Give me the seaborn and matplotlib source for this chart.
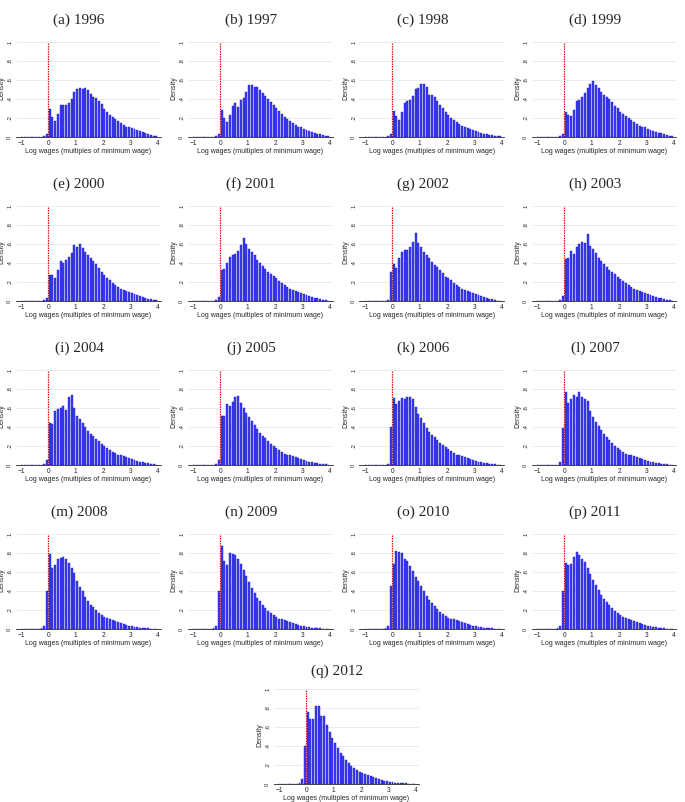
import numpy as np
import pandas as pd
import matplotlib
matplotlib.use("Agg")
import matplotlib.pyplot as plt
import seaborn as sns

# Densities per 0.1-wide bin of log wage (multiples of minimum wage).
# Bins start at -1.0; LEFT_TAIL covers -1.0 .. -0.4, each year list covers -0.3 .. 3.9
LEFT_TAIL = [0.002, 0.002, 0.002, 0.003, 0.003, 0.004, 0.005]

d1996 = [.005, .01, .03,
         .29, .21, .17, .24, .34, .34, .34, .36, .40, .47,
         .51, .52, .51, .52, .49, .45, .42, .41, .38, .35,
         .29, .26, .23, .21, .19, .17, .15, .13, .11, .10,
         .09, .08, .07, .06, .05, .04, .03, .02, .015, .01]
d1997 = [.005, .01, .03,
         .28, .20, .16, .23, .33, .36, .32, .39, .41, .47,
         .55, .55, .53, .53, .49, .46, .43, .40, .37, .34,
         .30, .27, .24, .21, .19, .17, .15, .13, .11, .10,
         .08, .07, .06, .05, .04, .035, .03, .02, .015, .01]
d1998 = [.005, .01, .03,
         .27, .22, .18, .26, .36, .38, .39, .43, .50, .52,
         .56, .555, .53, .44, .44, .42, .38, .34, .30, .26,
         .23, .20, .18, .16, .14, .12, .10, .09, .08, .07,
         .06, .05, .04, .035, .03, .025, .02, .015, .01, .007]
d1999 = [.005, .01, .03,
         .26, .23, .22, .28, .38, .39, .42, .46, .52, .56,
         .585, .55, .52, .47, .44, .42, .40, .37, .33, .30,
         .26, .24, .22, .20, .18, .16, .14, .12, .11, .10,
         .08, .07, .06, .05, .045, .04, .03, .02, .015, .01]
d2000 = [.005, .01, .03,
         .27, .27, .24, .33, .42, .40, .43, .46, .50, .59,
         .57, .60, .56, .52, .48, .45, .42, .39, .35, .31,
         .27, .24, .22, .19, .17, .15, .13, .12, .10, .09,
         .08, .07, .06, .05, .04, .03, .025, .02, .015, .01]
d2001 = [.005, .01, .04,
         .33, .34, .40, .46, .48, .49, .53, .59, .66, .60,
         .55, .52, .48, .43, .40, .37, .34, .31, .28, .26,
         .24, .21, .19, .17, .15, .13, .12, .10, .09, .08,
         .07, .06, .05, .04, .035, .03, .02, .015, .01, .005]
d2002 = [.005, .01, .31,
         .385, .35, .45, .52, .535, .535, .57, .62, .72, .615,
         .57, .52, .48, .45, .41, .38, .36, .325, .29, .255,
         .245, .22, .19, .17, .15, .13, .12, .10, .09, .08,
         .07, .06, .05, .04, .03, .025, .02, .01, .005, .003]
d2003 = [.005, .01, .05,
         .44, .45, .53, .49, .57, .60, .62, .61, .70, .58,
         .55, .50, .45, .42, .39, .36, .33, .30, .28, .25,
         .23, .21, .19, .17, .15, .13, .12, .10, .09, .08,
         .07, .06, .05, .04, .035, .03, .02, .015, .01, .005]
d2004 = [.005, .01, .05,
         .44, .43, .57, .59, .60, .62, .58, .72, .74, .60,
         .52, .48, .44, .40, .36, .33, .30, .27, .25, .22,
         .20, .18, .16, .14, .13, .11, .10, .09, .08, .07,
         .06, .05, .04, .035, .03, .025, .02, .015, .01, .005]
d2005 = [.005, .01, .05,
         .52, .52, .64, .62, .66, .72, .73, .65, .60, .55,
         .50, .46, .42, .38, .34, .31, .28, .25, .22, .20,
         .18, .16, .14, .12, .11, .10, .09, .08, .07, .06,
         .05, .04, .035, .03, .025, .02, .015, .01, .007, .005]
d2006 = [.005, .015, .40,
         .70, .64, .67, .70, .69, .715, .72, .69, .61, .54,
         .49, .44, .39, .35, .32, .29, .26, .23, .21, .19,
         .17, .15, .13, .11, .10, .09, .08, .07, .06, .05,
         .04, .035, .03, .025, .02, .015, .01, .008, .005, .003]
d2007 = [.005, .03, .39,
         .77, .65, .69, .74, .71, .77, .72, .69, .67, .57,
         .50, .455, .41, .37, .33, .29, .26, .23, .20, .18,
         .16, .14, .12, .11, .10, .09, .08, .07, .06, .05,
         .04, .035, .03, .025, .02, .015, .01, .008, .005, .003]
d2008 = [.01, .03, .40,
         .79, .64, .675, .74, .75, .76, .735, .69, .64, .59,
         .51, .44, .395, .34, .29, .255, .23, .20, .17, .15,
         .13, .115, .10, .09, .08, .07, .06, .05, .04, .035,
         .03, .025, .02, .015, .012, .01, .008, .005, .003, .002]
d2009 = [.01, .03, .40,
         .87, .72, .67, .80, .79, .78, .74, .68, .62, .56,
         .49, .43, .38, .33, .29, .25, .22, .19, .17, .15,
         .13, .11, .10, .09, .08, .07, .06, .05, .04, .035,
         .03, .025, .02, .015, .012, .01, .008, .005, .003, .002]
d2010 = [.01, .03, .45,
         .68, .82, .81, .80, .74, .72, .66, .61, .55, .50,
         .45, .40, .35, .31, .27, .24, .21, .18, .16, .14,
         .12, .11, .10, .09, .08, .07, .06, .05, .04, .035,
         .03, .025, .02, .015, .012, .01, .008, .005, .003, .002]
d2011 = [.01, .03, .40,
         .69, .67, .68, .76, .81, .78, .74, .70, .64, .58,
         .52, .46, .41, .36, .32, .28, .25, .22, .19, .17,
         .15, .13, .115, .10, .09, .08, .07, .06, .05, .04,
         .035, .03, .025, .02, .015, .01, .008, .005, .003, .002]
d2012 = [.01, .05, .40,
         .76, .68, .68, .82, .82, .72, .72, .62, .55, .48,
         .43, .375, .33, .29, .25, .22, .19, .17, .15, .13,
         .12, .10, .09, .08, .07, .06, .05, .04, .035, .03,
         .025, .02, .015, .012, .01, .008, .006, .004, .003, .002]

YEARS = [1996, 1997, 1998, 1999, 2000, 2001, 2002, 2003, 2004,
         2005, 2006, 2007, 2008, 2009, 2010, 2011, 2012]
LETTERS = list("abcdefghijklmnopq")
SERIES = [d1996, d1997, d1998, d1999, d2000, d2001, d2002, d2003, d2004,
          d2005, d2006, d2007, d2008, d2009, d2010, d2011, d2012]

XTICKS = [-1, 0, 1, 2, 3, 4]
XTICKLABELS = ["\u22121", "0", "1", "2", "3", "4"]
YTICKS = [0, .2, .4, .6, .8, 1]
YTICKLABELS = ["0", ".2", ".4", ".6", ".8", "1"]

sns.set_style("white")
plt.rcParams["font.family"] = ["Liberation Sans", "DejaVu Sans"]

# bin centres: 50 bins of width 0.1 from -1.0 to 4.0
centers = np.round(np.arange(50) * 0.1 - 0.95, 3)

W, H = 685, 802
fig = plt.figure(figsize=(W / 100, H / 100), dpi=100)

AX_W, AX_H = 145, 97
for i, (year, vals) in enumerate(zip(YEARS, SERIES)):
    r, c = divmod(i, 4)
    left = 15.5 + 172 * c if i < 16 else 273.5
    # last (centred) panel sits a little higher so its axis title stays on the page
    zero = 137 + 164 * r if i < 16 else 784
    ax = fig.add_axes([left / W, 1 - zero / H, AX_W / W, AX_H / H])

    df = pd.DataFrame({"logwage": centers, "density": LEFT_TAIL + vals})
    sns.histplot(data=df, x="logwage", weights="density", binwidth=0.1,
                 binrange=(-1.0, 4.0), stat="count", shrink=0.72,
                 color="#3c3cff", edgecolor="#1e1ea6", linewidth=0.3,
                 alpha=1, ax=ax, zorder=3)
    ax.axvline(0, ymin=0, ymax=1 / 1.02, color="#e01010", lw=0.9,
               ls=(0, (1.2, 0.8)), zorder=2)

    ax.set_xlim(-1.2, 4.1)
    ax.set_ylim(0, 1.02)
    ax.set_xticks(XTICKS)
    ax.set_xticklabels(XTICKLABELS, fontsize=4.8)
    ax.set_yticks(YTICKS)
    ax.set_yticklabels(YTICKLABELS, fontsize=4.2, rotation=90, va="center")
    ax.yaxis.grid(True, color="#e3eaed", lw=0.6)
    ax.set_axisbelow(True)
    ax.tick_params(axis="both", length=1.6, width=0.5, pad=0.8, color="#333333")
    for s in ["top", "right", "left"]:
        ax.spines[s].set_visible(False)
    ax.spines["bottom"].set_color("#222222")
    ax.spines["bottom"].set_linewidth(0.6)
    ax.set_xlabel("Log wages (multiples of minimum wage)", fontsize=5, labelpad=0.5)
    ax.set_ylabel("Density", fontsize=5)
    ax.yaxis.set_label_coords(-0.07, 0.5)

    fig.text((left + AX_W / 2 - 9) / W, 1 - (20 + 164 * r - (5 if i == 16 else 0)) / H,
             f"({LETTERS[i]}) {year}", ha="center", va="center",
             fontsize=11, family=["Liberation Serif", "DejaVu Serif"])

fig.savefig("out.png", dpi=100)
